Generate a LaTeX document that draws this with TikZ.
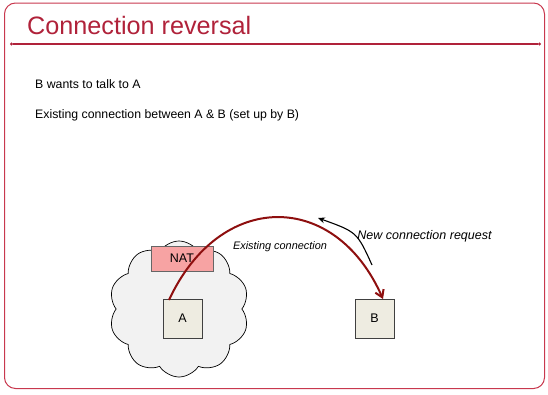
\documentclass[tikz,border=0pt]{standalone}
\usepackage{fontspec}
\setmainfont{Liberation Sans}
\usetikzlibrary{shapes.symbols,arrows.meta}
\definecolor{slidered}{HTML}{B0223A}
\definecolor{framered}{HTML}{C8384E}
\definecolor{linkred}{HTML}{8E0F0F}
\definecolor{cloudgray}{HTML}{F2F2F2}
\definecolor{natpink}{HTML}{F7A3A3}
\definecolor{hostfill}{HTML}{EEECE1}
\definecolor{boxedge}{HTML}{404040}
\tikzset{
  hostbox/.style={draw=boxedge, line width=0.8pt, fill=hostfill, minimum width=39pt, minimum height=39pt, inner sep=0pt, font=\fontsize{12.5}{14}\selectfont},
  natbox/.style={draw=boxedge!80, line width=0.6pt, fill=natpink, minimum width=62pt, minimum height=25pt, inner sep=0pt, font=\fontsize{12.5}{14}\selectfont},
  bodytext/.style={anchor=west, inner sep=0pt, font=\fontsize{12.3}{14}\selectfont},
  dotend/.style={fill=slidered, circle, inner sep=0pt, minimum size=3.4pt}
}
\begin{document}
\begin{tikzpicture}[x=1pt, y=-1pt]
\useasboundingbox (0,0) rectangle (548,394);
% slide frame
\draw[framered, line width=1pt, rounded corners=11pt] (4.5,3) rectangle (544.5,388.5);
% title and rule
\node[anchor=base west, inner sep=0pt, text=slidered, font=\fontsize{25.2}{30}\selectfont] (title) at (27,34.5) {Connection reversal};
\node[dotend] (ruleL) at (11.5,44) {};
\node[dotend] (ruleR) at (539.5,44) {};
\draw[slidered, line width=1.1pt] (ruleL) -- (ruleR);
% bullet text
\node[bodytext] (line1) at (35,84) {B wants to talk to A};
\node[bodytext] (line2) at (35,115) {Existing connection between A \& B (set up by B)};
% private network
\node[cloud, cloud puffs=10, cloud puff arc=115, aspect=1.05, draw=black, line width=0.7pt, fill=cloudgray, minimum width=140pt, minimum height=136pt] (lan) at (179,309) {};
\node[natbox] (nat) at (182,258.5) {NAT};
\node[hostbox] (A) at (182.5,318.5) {A};
\node[hostbox] (B) at (374.5,318.5) {B};
% existing connection from A to B
\coordinate (aout) at (169,300);
\coordinate (bin) at (383,299);
\draw[linkred, line width=2pt, -{Straight Barb[length=7pt, width=9pt, line width=2pt]}]
  (aout) .. controls (220,190) and (335,190) .. (bin);
\node[inner sep=0pt, font=\itshape\fontsize{10.9}{12}\selectfont] (exlabel) at (280,247) {Existing connection};
% new connection request from B
\coordinate (reqs) at (372,265);
\coordinate (reqe) at (318,218);
\draw[black, line width=1.1pt, -{Stealth[length=7pt, width=6pt]}] (reqs) .. controls (357,232) .. (reqe);
\node[inner sep=0pt, font=\itshape\fontsize{12.5}{14}\selectfont] (reqlabel) at (424.5,236) {New connection request};
\end{tikzpicture}
\end{document}
